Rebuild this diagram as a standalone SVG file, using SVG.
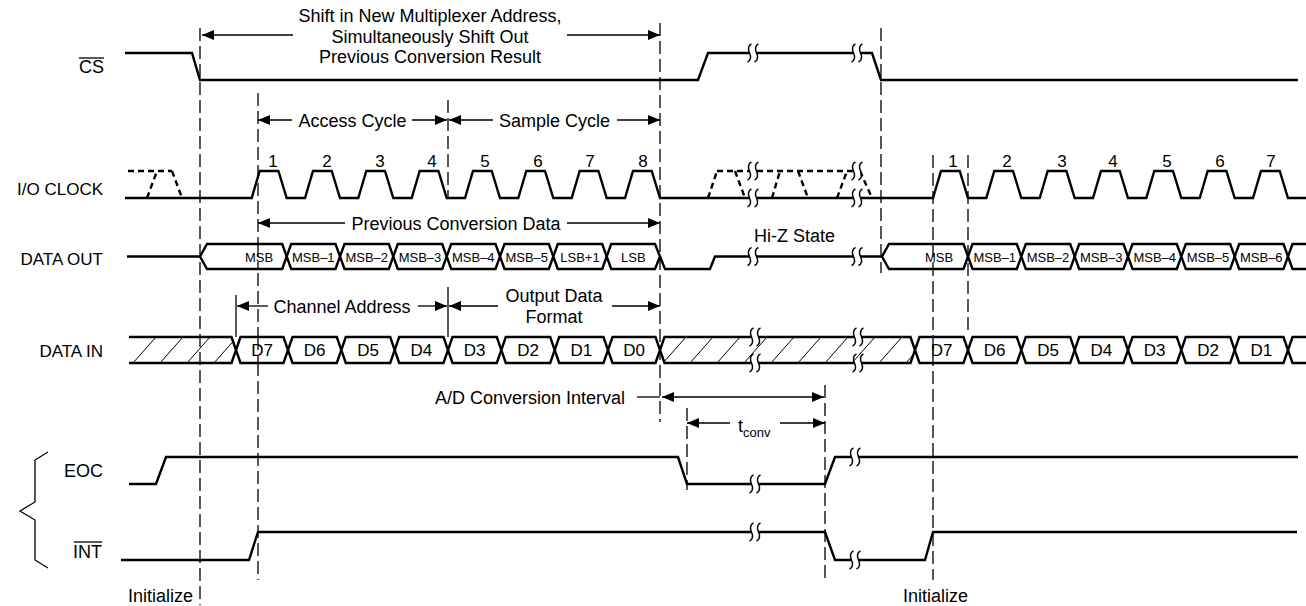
<svg xmlns="http://www.w3.org/2000/svg" width="1306" height="606" viewBox="0 0 1306 606">
<style>
text{font-family:"Liberation Sans",Arial,sans-serif;fill:#000}
.lbl{font-size:18px}
.sl{font-size:17px}
.sig{fill:none;stroke:#000;stroke-width:2.4;stroke-linejoin:miter}
.bus{fill:#fff;stroke:#000;stroke-width:2.4;stroke-linejoin:miter}
.dsig{fill:none;stroke:#000;stroke-width:2.4;stroke-dasharray:6 4}
.vd{fill:none;stroke:#000;stroke-width:1.3;stroke-dasharray:13 5}
.tk{fill:none;stroke:#000;stroke-width:1.3}
.ar{fill:none;stroke:#000;stroke-width:1.3;marker-end:url(#ah)}
.ht{stroke:#000;stroke-width:1}
.ov{stroke:#000;stroke-width:1.3}
.bl{font-size:13px}
.dl{font-size:17px}
.bk{fill:none;stroke:#000;stroke-width:1.5}
</style>
<defs>
<marker id="ah" viewBox="0 0 12 10" refX="12" refY="5" markerWidth="12" markerHeight="10" markerUnits="userSpaceOnUse" orient="auto"><path d="M0,0 L12,5 L0,10 z" fill="#000"/></marker>
<g id="brk"><rect x="-3.5" y="-3" width="7" height="6" fill="#fff"/><path class="bk" d="M-1.5,-9 C-4.5,-8 -5.5,-4 -3.5,0 C-1.5,4 -2.5,8 -5.5,9"/><path class="bk" d="M5.5,-9 C2.5,-8 1.5,-4 3.5,0 C5.5,4 4.5,8 1.5,9"/></g>
<clipPath id="c1"><polygon points="129,337 231.5,337 236,350 231.5,363 129,363"/></clipPath>
<clipPath id="c2"><polygon points="660,350 664.5,337 910.5,337 915,350 910.5,363 664.5,363"/></clipPath>
</defs>
<rect width="1306" height="606" fill="#fff"/>

<g id="labels">
<text class="lbl" x="104" y="73" text-anchor="end">CS</text>
<line class="ov" x1="79" y1="58" x2="104" y2="58"/>
<text class="sl" x="103" y="194.5" text-anchor="end">I/O CLOCK</text>
<text class="sl" x="103" y="264.5" text-anchor="end">DATA OUT</text>
<text class="sl" x="103" y="356.5" text-anchor="end">DATA IN</text>
<text class="lbl" x="103" y="476.5" text-anchor="end">EOC</text>
<text class="lbl" x="102" y="558" text-anchor="end">INT</text>
<line class="ov" x1="74" y1="542" x2="102" y2="542"/>
<path class="tk" d="M48,452 L35,460 L35,502 L20,511 L35,520 L35,560 L48,568"/>
<text class="lbl" x="128" y="602">Initialize</text>
<text class="lbl" x="903" y="602">Initialize</text>
</g>

<g id="connectors">
<line class="vd" x1="200" y1="28" x2="200" y2="605"/>
<line class="vd" x1="258" y1="93" x2="258" y2="580"/>
<line class="vd" x1="448" y1="100" x2="448" y2="197"/>
<line class="vd" x1="660" y1="23" x2="660" y2="422"/>
<line class="vd" x1="881" y1="28" x2="881" y2="273"/>
<line class="vd" x1="933" y1="155" x2="933" y2="580"/>
<line class="vd" x1="968" y1="155" x2="968" y2="335"/>
<line class="vd" x1="687" y1="408" x2="687" y2="490"/>
<line class="vd" x1="825" y1="385" x2="825" y2="578"/>
<line class="tk" x1="236" y1="295" x2="236" y2="337"/>
<line class="tk" x1="448" y1="287" x2="448" y2="337"/>

<line class="ar" x1="293" y1="35" x2="202" y2="35"/>
<line class="ar" x1="567" y1="35" x2="660" y2="35"/>
<line class="ar" x1="292" y1="120" x2="258" y2="120"/>
<line class="ar" x1="412" y1="120" x2="447" y2="120"/>
<line class="ar" x1="493" y1="120" x2="449" y2="120"/>
<line class="ar" x1="617" y1="120" x2="660" y2="120"/>
<line class="ar" x1="345" y1="223" x2="258" y2="223"/>
<line class="ar" x1="567" y1="223" x2="660" y2="223"/>
<line class="ar" x1="268" y1="306" x2="237" y2="306"/>
<line class="ar" x1="418" y1="306" x2="447" y2="306"/>
<line class="ar" x1="498" y1="306" x2="449" y2="306"/>
<line class="ar" x1="612" y1="306" x2="660" y2="306"/>
<line class="tk" x1="637" y1="397" x2="660" y2="397"/>
<line class="ar" x1="743" y1="397" x2="662" y2="397"/>
<line class="ar" x1="743" y1="397" x2="824" y2="397"/>
<line class="ar" x1="730" y1="423" x2="687" y2="423"/>
<line class="ar" x1="780" y1="423" x2="825" y2="423"/>
</g>

<g id="annotations">
<text class="lbl" x="430" y="22" text-anchor="middle">Shift in New Multiplexer Address,</text>
<text class="lbl" x="430" y="43" text-anchor="middle">Simultaneously Shift Out</text>
<text class="lbl" x="430" y="63" text-anchor="middle">Previous Conversion Result</text>
<text class="lbl" x="352.5" y="126.5" text-anchor="middle">Access Cycle</text>
<text class="lbl" x="554.5" y="126.5" text-anchor="middle">Sample Cycle</text>
<text class="lbl" x="456" y="229.5" text-anchor="middle">Previous Conversion Data</text>
<text class="lbl" x="794.5" y="242" text-anchor="middle">Hi-Z State</text>
<text class="lbl" x="342" y="312.5" text-anchor="middle">Channel Address</text>
<text class="lbl" x="554" y="302" text-anchor="middle">Output Data</text>
<text class="lbl" x="554" y="323" text-anchor="middle">Format</text>
<text class="lbl" x="625" y="403.5" text-anchor="end">A/D Conversion Interval</text>
<text class="lbl" x="738" y="432">t<tspan font-size="13" dy="5">conv</tspan></text>
</g>

<g id="cs">
<path class="sig" d="M125,53 L192,53 L200,80 L698,80 L708,53 L872,53 L881,80 L1298,80"/>
<use href="#brk" x="753" y="53"/>
<use href="#brk" x="857" y="53"/>
</g>

<g id="io-clock">
<path class="dsig" d="M128,171 L172,171 M147,198 L157,171 M172,171 L182,198"/>
<path class="sig" d="M125,198 L251.7,198 L259.7,171 L278.4,171 L286.7,198 L305,198 L313,171 L331.7,171 L340,198 L358.3,198 L366.3,171 L385,171 L393.3,198 L411.7,198 L419.7,171 L438.4,171 L446.7,198 L465,198 L473,171 L491.7,171 L500,198 L518.3,198 L526.3,171 L545,171 L553.3,198 L571.7,198 L579.7,171 L598.4,171 L606.7,198 L625,198 L633,171 L651.7,171 L660,198 L933,198 L941,171 L959.7,171 L968,198 L986.3,198 L994.3,171 L1013,171 L1021.3,198 L1039.7,198 L1047.7,171 L1066.4,171 L1074.7,198 L1093,198 L1101,171 L1119.7,171 L1128,198 L1146.3,198 L1154.3,171 L1173,171 L1181.3,198 L1199.7,198 L1207.7,171 L1226.4,171 L1234.7,198 L1253,198 L1261,171 L1279.7,171 L1288,198 L1306,198"/>
<path class="dsig" d="M717,171 L860,171 M708,198 L717,171 M735,171 L745,198 M772,198 L780,171 M798,171 L808,198 M837,198 L847,171 M860,171 L872,198"/>
<use href="#brk" x="753" y="171"/>
<use href="#brk" x="857" y="171"/>
<use href="#brk" x="753" y="198"/>
<use href="#brk" x="857" y="198"/>
<g class="dl" text-anchor="middle">
<text x="273" y="167">1</text><text x="327" y="167">2</text><text x="380" y="167">3</text><text x="432" y="167">4</text>
<text x="485" y="167">5</text><text x="538" y="167">6</text><text x="590" y="167">7</text><text x="643" y="167">8</text>
<text x="953" y="167">1</text><text x="1007" y="167">2</text><text x="1062" y="167">3</text><text x="1113" y="167">4</text>
<text x="1167" y="167">5</text><text x="1220" y="167">6</text><text x="1271" y="167">7</text>
</g>
</g>

<g id="data-out">
<path class="sig" d="M127,256.5 L200,256.5"/>
<path class="sig" d="M660,256.5 L665,269 L710,269 L715,256.5 L882,256.5"/>
<polygon class="bus" points="200,256.5 207,244 282.2,244 286.7,256.5 282.2,269 207,269"/>
<polygon class="bus" points="286.7,256.5 291.2,244 335.5,244 340,256.5 335.5,269 291.2,269"/>
<polygon class="bus" points="340,256.5 344.5,244 388.8,244 393.3,256.5 388.8,269 344.5,269"/>
<polygon class="bus" points="393.3,256.5 397.8,244 442.2,244 446.7,256.5 442.2,269 397.8,269"/>
<polygon class="bus" points="446.7,256.5 451.2,244 495.5,244 500,256.5 495.5,269 451.2,269"/>
<polygon class="bus" points="500,256.5 504.5,244 548.8,244 553.3,256.5 548.8,269 504.5,269"/>
<polygon class="bus" points="553.3,256.5 557.8,244 602.2,244 606.7,256.5 602.2,269 557.8,269"/>
<polygon class="bus" points="606.7,256.5 611.2,244 655,244 660,256.5 655,269 611.2,269"/>
<polygon class="bus" points="882,256.5 889,244 963.5,244 968,256.5 963.5,269 889,269"/>
<polygon class="bus" points="968,256.5 972.5,244 1016.8,244 1021.3,256.5 1016.8,269 972.5,269"/>
<polygon class="bus" points="1021.3,256.5 1025.8,244 1070.2,244 1074.7,256.5 1070.2,269 1025.8,269"/>
<polygon class="bus" points="1074.7,256.5 1079.2,244 1123.5,244 1128,256.5 1123.5,269 1079.2,269"/>
<polygon class="bus" points="1128,256.5 1132.5,244 1176.8,244 1181.3,256.5 1176.8,269 1132.5,269"/>
<polygon class="bus" points="1181.3,256.5 1185.8,244 1230.2,244 1234.7,256.5 1230.2,269 1185.8,269"/>
<polygon class="bus" points="1234.7,256.5 1239.2,244 1283.5,244 1288,256.5 1283.5,269 1239.2,269"/>
<path class="bus" d="M1310,244 L1292.5,244 L1288,256.5 L1292.5,269 L1310,269"/>
<line class="vd" x1="258" y1="244" x2="258" y2="269"/>
<line class="vd" x1="933" y1="244" x2="933" y2="269"/>
<use href="#brk" x="753" y="256.5"/>
<use href="#brk" x="857" y="256.5"/>
<g class="bl" text-anchor="middle">
<text x="259" y="261.5">MSB</text><text x="313.3" y="261.5">MSB–1</text><text x="366.7" y="261.5">MSB–2</text><text x="420" y="261.5">MSB–3</text>
<text x="473.3" y="261.5">MSB–4</text><text x="526.7" y="261.5">MSB–5</text><text x="580" y="261.5">LSB+1</text><text x="633.3" y="261.5">LSB</text>
<text x="939" y="261.5">MSB</text><text x="994.7" y="261.5">MSB–1</text><text x="1048" y="261.5">MSB–2</text><text x="1101.3" y="261.5">MSB–3</text>
<text x="1154.7" y="261.5">MSB–4</text><text x="1208" y="261.5">MSB–5</text><text x="1261.3" y="261.5">MSB–6</text>
</g>
</g>

<g id="data-in">
<g clip-path="url(#c1)">
<line class="ht" x1="106" y1="363" x2="129" y2="337"/><line class="ht" x1="133" y1="363" x2="156" y2="337"/><line class="ht" x1="160" y1="363" x2="183" y2="337"/><line class="ht" x1="187" y1="363" x2="210" y2="337"/><line class="ht" x1="214" y1="363" x2="237" y2="337"/>
</g>
<path class="sig" d="M129,337 L231.5,337 L236,350 L231.5,363 L129,363"/>
<g clip-path="url(#c2)">
<line class="ht" x1="636" y1="363" x2="659" y2="337"/><line class="ht" x1="663" y1="363" x2="686" y2="337"/><line class="ht" x1="690" y1="363" x2="713" y2="337"/><line class="ht" x1="717" y1="363" x2="740" y2="337"/><line class="ht" x1="744" y1="363" x2="767" y2="337"/><line class="ht" x1="771" y1="363" x2="794" y2="337"/><line class="ht" x1="798" y1="363" x2="821" y2="337"/><line class="ht" x1="825" y1="363" x2="848" y2="337"/><line class="ht" x1="852" y1="363" x2="875" y2="337"/><line class="ht" x1="879" y1="363" x2="902" y2="337"/><line class="ht" x1="906" y1="363" x2="929" y2="337"/>
</g>
<polygon class="sig" points="660,350 664.5,337 910.5,337 915,350 910.5,363 664.5,363"/>
<polygon class="bus" points="236,350 240.5,337 283.5,337 288,350 283.5,363 240.5,363"/>
<polygon class="bus" points="288,350 292.5,337 336.8,337 341.3,350 336.8,363 292.5,363"/>
<polygon class="bus" points="341.3,350 345.8,337 390.2,337 394.7,350 390.2,363 345.8,363"/>
<polygon class="bus" points="394.7,350 399.2,337 443.5,337 448,350 443.5,363 399.2,363"/>
<polygon class="bus" points="448,350 452.5,337 496.8,337 501.3,350 496.8,363 452.5,363"/>
<polygon class="bus" points="501.3,350 505.8,337 550.2,337 554.7,350 550.2,363 505.8,363"/>
<polygon class="bus" points="554.7,350 559.2,337 603.5,337 608,350 603.5,363 559.2,363"/>
<polygon class="bus" points="608,350 612.5,337 655.5,337 660,350 655.5,363 612.5,363"/>
<polygon class="bus" points="915,350 919.5,337 963.5,337 968,350 963.5,363 919.5,363"/>
<polygon class="bus" points="968,350 972.5,337 1016.8,337 1021.3,350 1016.8,363 972.5,363"/>
<polygon class="bus" points="1021.3,350 1025.8,337 1070.2,337 1074.7,350 1070.2,363 1025.8,363"/>
<polygon class="bus" points="1074.7,350 1079.2,337 1123.5,337 1128,350 1123.5,363 1079.2,363"/>
<polygon class="bus" points="1128,350 1132.5,337 1176.8,337 1181.3,350 1176.8,363 1132.5,363"/>
<polygon class="bus" points="1181.3,350 1185.8,337 1230.2,337 1234.7,350 1230.2,363 1185.8,363"/>
<polygon class="bus" points="1234.7,350 1239.2,337 1283.5,337 1288,350 1283.5,363 1239.2,363"/>
<path class="bus" d="M1310,337 L1292.5,337 L1288,350 L1292.5,363 L1310,363"/>
<line class="vd" x1="258" y1="337" x2="258" y2="363"/>
<line class="vd" x1="933" y1="337" x2="933" y2="363"/>
<use href="#brk" x="755" y="337"/>
<use href="#brk" x="858" y="337"/>
<use href="#brk" x="755" y="363"/>
<use href="#brk" x="858" y="363"/>
<g class="dl" text-anchor="middle">
<text x="262" y="356">D7</text><text x="314.7" y="356">D6</text><text x="368" y="356">D5</text><text x="421.3" y="356">D4</text>
<text x="474.7" y="356">D3</text><text x="528" y="356">D2</text><text x="581.3" y="356">D1</text><text x="634" y="356">D0</text>
<text x="941.5" y="356">D7</text><text x="994.7" y="356">D6</text><text x="1048" y="356">D5</text><text x="1101.3" y="356">D4</text>
<text x="1154.7" y="356">D3</text><text x="1208" y="356">D2</text><text x="1261.3" y="356">D1</text>
</g>
</g>

<g id="eoc">
<path class="sig" d="M129,484 L156,484 L166,457 L678,457 L687,484 L825,484 L835,457 L1298,457"/>
<use href="#brk" x="755" y="484"/>
<use href="#brk" x="855" y="457"/>
</g>

<g id="int">
<path class="sig" d="M121,560 L249,560 L258,532 L825,532 L835,560 L925,560 L933,532 L1297,532"/>
<use href="#brk" x="755" y="532"/>
<use href="#brk" x="855" y="560"/>
</g>
</svg>
